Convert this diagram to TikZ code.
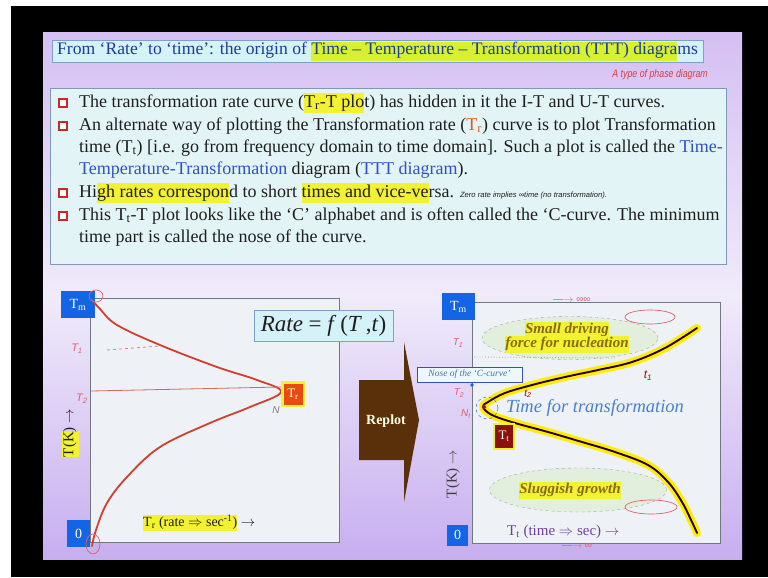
\documentclass[tikz,border=0pt]{standalone}
\usepackage{fontspec}
\setmainfont{Liberation Serif}
\newfontfamily\lsans{Liberation Sans}
\usetikzlibrary{shapes.geometric}
\definecolor{lavtop}{HTML}{D5BFF3}
\definecolor{lavmid}{HTML}{F0EBFA}
\definecolor{lavbot}{HTML}{C7AEEF}
\definecolor{titlefill}{HTML}{D4F2F8}
\definecolor{titleborder}{HTML}{7FA0C8}
\definecolor{boxfill}{HTML}{E3F4F6}
\definecolor{boxborder}{HTML}{8098B8}
\definecolor{bodytext}{HTML}{1E1E1E}
\definecolor{titletext}{HTML}{1C3C9C}
\definecolor{bluetext}{HTML}{3050C8}
\definecolor{trorange}{HTML}{E05A20}
\definecolor{hlyellow}{HTML}{F2F230}
\definecolor{hlgreen}{HTML}{D8F030}
\definecolor{bulred}{HTML}{C82828}
\definecolor{tmblue}{HTML}{1464E6}
\definecolor{plotbg}{HTML}{EEF1F5}
\definecolor{framec}{HTML}{707880}
\definecolor{curvered}{HTML}{D04030}
\definecolor{trbox}{HTML}{E84A10}
\definecolor{ttbox}{HTML}{8C1010}
\definecolor{arrowbrown}{HTML}{5A300A}
\definecolor{ellfill}{HTML}{E2EFDC}
\definecolor{elltext}{HTML}{8A6A18}
\definecolor{pinkhand}{HTML}{E06070}
\definecolor{notered}{HTML}{D04040}
\definecolor{timeblue}{HTML}{4A80D0}
\definecolor{purplet}{HTML}{7040A0}
\definecolor{nosecol}{HTML}{5070A0}
\newcommand{\hlt}[1]{{\setlength{\fboxsep}{0pt}\colorbox{hlyellow}{\strut #1}}}
\newcommand{\hlg}[1]{{\setlength{\fboxsep}{0pt}\colorbox{hlgreen}{\strut #1}}}
\tikzset{
  bodyline/.style={anchor=west, inner sep=0pt, text height=12pt, text depth=4pt,
    font=\fontsize{18}{20}\selectfont, text=bodytext},
  bulbox/.style={draw=bulred, line width=1.6pt, fill=white, minimum size=8.5pt, inner sep=0pt},
  tmbox/.style={fill=tmblue, text=white, inner sep=0pt, font=\fontsize{14}{16}\selectfont},
  hand/.style={text=pinkhand, inner sep=0pt, font=\lsans\itshape\fontsize{10}{11}\selectfont},
  ellbox/.style={ellipse, draw=gray!70, dashed, fill=ellfill, inner sep=0pt},
  elltxt/.style={text=elltext, inner sep=0pt, font=\bfseries\itshape\fontsize{15}{17}\selectfont}
}
\begin{document}
\begin{tikzpicture}[x=1pt,y=-1pt]
\useasboundingbox (0,0) rectangle (768,578);
\fill[white] (0,0) rectangle (768,578);
\fill[black] (11,6) rectangle (768,577);
\shade[top color=lavtop, bottom color=lavbot, middle color=lavmid] (43,33) rectangle (742,559);

% title
\draw[fill=titlefill, draw=titleborder] (52,40) rectangle (703,62);
\node[anchor=west, inner sep=0pt, text=titletext, font=\fontsize{17.6}{19}\selectfont] (title) at (57,51)
 {From ‘Rate’ to ‘time’: the origin of \hlg{Time – Temperature – Transformation (TTT) diagra}ms};
\node[anchor=east, inner sep=0pt, text=notered, font=\lsans\itshape\fontsize{11}{12}\selectfont] (phase) at (708,75) {\scalebox{0.8}[1]{A type of phase diagram}};

% text box
\draw[fill=boxfill, draw=boxborder] (50,88) rectangle (726,264);
\node[bulbox] (b1) at (63,103) {};
\node[bulbox] (b2) at (63,126) {};
\node[bulbox] (b3) at (63,193) {};
\node[bulbox] (b4) at (63,216) {};
\node[bodyline] (l1) at (79,103) {The transformation rate curve (\hlt{T\textsubscript{r}-T plo}t) has hidden in it the I-T and U-T curves.};
\node[bodyline] (l2) at (79,126) {An alternate way of plotting the Transformation rate ({\color{trorange}T\textsubscript{r}}) curve is to plot Transformation};
\node[bodyline] (l3) at (79,148) {time (T\textsubscript{t}) [i.e. go from frequency domain to time domain]. Such a plot is called the {\color{bluetext}Time-}};
\node[bodyline] (l4) at (79,170) {{\color{bluetext}Temperature-Transformation} diagram ({\color{bluetext}TTT diagram}).};
\node[bodyline] (l5) at (79,193) {Hi\hlt{gh rates correspon}d to short \hlt{times and vice-ve}rsa. {\lsans\itshape\fontsize{7.6}{8}\selectfont Zero rate implies ∞time (no transformation).}};
\node[bodyline] (l6) at (79,216) {This T\textsubscript{t}-T plot looks like the ‘C’ alphabet and is often called the ‘C-curve. The minimum};
\node[bodyline] (l7) at (79,238) {time part is called the nose of the curve.};

% ---------- left plot ----------
\draw[draw=framec, fill=plotbg] (90,298) rectangle (339,542);
\node[tmbox, minimum width=34pt, minimum height=27pt] (tm1) at (78,304.5) {T\textsubscript{m}};
\node[tmbox, minimum width=23pt, minimum height=27pt] (z1) at (78.5,533.5) {0};
\draw[curvered, line width=1.8pt, line cap=round] plot[smooth, tension=0.6] coordinates {
 (92,300) (100,309) (117,325) (160,345) (217,367) (257,380) (281,392)
 (250,407) (210,423) (160,447) (127,477) (107,503) (96,530) (92,546)};
\draw[curvered!80, line width=0.8pt] (91,391) -- (281,387);
\draw[pinkhand!80, line width=0.8pt, dashed] (107,350) -- (160,346);
\node[hand, font=\lsans\itshape\fontsize{11}{12}\selectfont] (hT1) at (77,349) {T\textsubscript{1}};
\node[hand, font=\lsans\itshape\fontsize{11}{12}\selectfont] (hT2) at (82,399) {T\textsubscript{2}};
\node[hand, text=gray] (hN) at (276,410) {N};
\draw[pinkhand, line width=0.7pt] (96,296) ellipse (7pt and 6pt);
\draw[pinkhand, line width=0.7pt] (93,544) ellipse (7pt and 10pt);
\fill[hlyellow] (281,381) rectangle (305,407);
\node[fill=trbox, text=white, inner sep=0pt, minimum width=19pt, minimum height=21pt, font=\fontsize{13}{15}\selectfont] (tr) at (293,394) {T\textsubscript{r}};
\node[rotate=90, inner sep=0pt, text=bodytext, font=\fontsize{15}{17}\selectfont] (ylab1) at (70,433) {\hlt{T(K}) $\rightarrow$};
\node[anchor=west, inner sep=0pt, text=bodytext, font=\fontsize{14}{16}\selectfont] (xlab1) at (143,523) {\hlt{T\textsubscript{r} (rate $\Rightarrow$ sec\textsuperscript{-1})} $\rightarrow$};

% rate box
\node[draw=titleborder, fill=titlefill, line width=0.8pt, minimum width=139pt, minimum height=31pt, inner sep=0pt,
  text=bodytext, font=\fontsize{23}{25}\selectfont] (rate) at (323.5,325.5) {\textit{Rate} = \textit{f}\,(\textit{T}\,,\textit{t})};

% replot arrow
\fill[arrowbrown] (359,380) -- (404,380) -- (404,342) -- (419,420) -- (404,502) -- (404,460) -- (359,460) -- cycle;
\node[text=white!90!yellow, font=\bfseries\fontsize{14}{16}\selectfont, inner sep=0pt] (replot) at (386,421) {Replot};

% ---------- right plot ----------
\draw[draw=framec, fill=plotbg] (472,302) rectangle (720,543);
\node[tmbox, minimum width=33pt, minimum height=27pt] (tm2) at (458.5,306.5) {T\textsubscript{m}};
\node[tmbox, minimum width=21pt, minimum height=21pt] (z2) at (457.5,535) {0};
\node[ellbox, minimum width=176pt, minimum height=43pt] (ell1) at (570,338) {};
\node[ellbox, minimum width=177pt, minimum height=44pt] (ell2) at (578,490) {};
\node[elltxt, align=center] (small) at (567,337) {\hlt{Small driving}\\[-3pt]\hlt{force for nucleation}};
\node[elltxt] (slug) at (570,490) {\hlt{Sluggish growth}};
\draw[gray!70, dotted, line width=0.8pt] (474,357) -- (615,358);
\def\ccurve{plot[smooth, tension=0.6] coordinates {
 (697,328) (665,348) (632,362) (598,370) (565,377) (532,385) (505,393) (488,402) (483,407)
 (492,415) (515,423) (548,432) (582,442) (615,452) (648,465) (668,482) (682,502) (692,522) (697,533)}}
\draw[yellow!95!orange, line width=8pt, line cap=round, line join=round] \ccurve;
\draw[black!85!red, line width=1.9pt, line cap=round, line join=round] \ccurve;
\draw[timeblue, dashed, line width=0.6pt] (487,408) circle (11pt);
\fill[red!80!black] (484,407) circle (2pt);
\node[draw=nosecol!70!blue, fill=white!92!cyan, inner sep=1.5pt, text=nosecol,
  font=\itshape\fontsize{9.5}{10}\selectfont, minimum width=105pt, minimum height=15pt] (nose) at (469.5,374.5) {Nose of the ‘C-curve’};
\fill[tmblue] (472,385) circle (1.8pt);
\node[text=timeblue, inner sep=0pt, font=\itshape\fontsize{18.5}{20}\selectfont] (tft) at (595,408) {Time for transformation};
\fill[hlyellow] (493,423) rectangle (515,450);
\node[fill=ttbox, text=white!90!yellow, inner sep=0pt, minimum width=18pt, minimum height=23pt, font=\fontsize{13}{15}\selectfont] (tt) at (504,436.5) {T\textsubscript{t}};
\node[rotate=90, inner sep=0pt, text=black!75, font=\fontsize{15}{17}\selectfont] (ylab2) at (453,474) {T(K) $\rightarrow$};
\node[anchor=west, inner sep=0pt, text=purplet, font=\fontsize{15}{17}\selectfont] (xlab2) at (507,532) {T\textsubscript{t} (time $\Rightarrow$ sec) $\rightarrow$};
% handwritten marks
\node[hand] (rT1) at (458,343) {T\textsubscript{1}};
\node[hand] (rT2) at (459,393) {T\textsubscript{2}};
\node[hand] (rNt) at (466,414) {N\textsubscript{t}};
\node[hand, text=red!70!black, font=\lsans\itshape\fontsize{12}{13}\selectfont] (rt1) at (648,376) {t\textsubscript{1}};
\node[hand, text=red!70!black] (rt2) at (528,394) {t\textsubscript{2}};
\node[hand, font=\lsans\fontsize{10}{11}\selectfont] (inf1) at (572,300) {—$\rightarrow$ ∞∞};
\node[hand, font=\lsans\fontsize{10}{11}\selectfont] (inf2) at (577,546) {—$\rightarrow$ ∞};
\draw[pinkhand, line width=0.7pt] (650,317) ellipse (25pt and 7pt);
\draw[pinkhand, line width=0.7pt] (651,507) ellipse (26pt and 7pt);
\end{tikzpicture}
\end{document}
